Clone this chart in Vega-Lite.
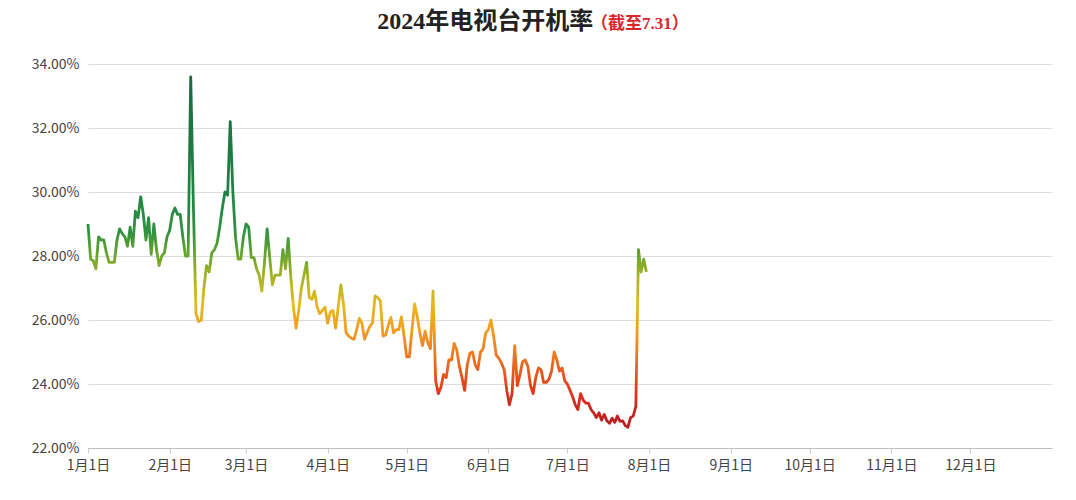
{
  "$schema": "https://vega.github.io/schema/vega-lite/v6.json",
  "width": 964,
  "height": 384,
  "autosize": {"type": "none"},
  "padding": {"left": 88, "top": 64, "right": 24, "bottom": 52},
  "background": "white",
  "config": {"view": {"stroke": null}, "font": "Noto Sans CJK SC"},
  "title": {
    "text": "2024年电视台开机率",
    "anchor": "start",
    "dx": 346,
    "offset": -19,
    "font": "Liberation Serif, Noto Sans CJK SC",
    "fontSize": 24,
    "fontWeight": "bold",
    "color": "#222222"
  },
  "layer": [
    {
      "data": {
        "values": [
          {"date": "2024-01-01", "rate": 29.0},
          {"date": "2024-01-02", "rate": 27.9},
          {"date": "2024-01-03", "rate": 27.85},
          {"date": "2024-01-04", "rate": 27.6},
          {"date": "2024-01-05", "rate": 28.6},
          {"date": "2024-01-06", "rate": 28.5},
          {"date": "2024-01-07", "rate": 28.5},
          {"date": "2024-01-08", "rate": 28.1},
          {"date": "2024-01-09", "rate": 27.8},
          {"date": "2024-01-10", "rate": 27.8},
          {"date": "2024-01-11", "rate": 27.8},
          {"date": "2024-01-12", "rate": 28.5},
          {"date": "2024-01-13", "rate": 28.85},
          {"date": "2024-01-14", "rate": 28.7},
          {"date": "2024-01-15", "rate": 28.6},
          {"date": "2024-01-16", "rate": 28.3},
          {"date": "2024-01-17", "rate": 28.9},
          {"date": "2024-01-18", "rate": 28.3},
          {"date": "2024-01-19", "rate": 29.4},
          {"date": "2024-01-20", "rate": 29.2},
          {"date": "2024-01-21", "rate": 29.85},
          {"date": "2024-01-22", "rate": 29.3},
          {"date": "2024-01-23", "rate": 28.5},
          {"date": "2024-01-24", "rate": 29.2},
          {"date": "2024-01-25", "rate": 28.05},
          {"date": "2024-01-26", "rate": 29.0},
          {"date": "2024-01-27", "rate": 28.2},
          {"date": "2024-01-28", "rate": 27.7},
          {"date": "2024-01-29", "rate": 28.0},
          {"date": "2024-01-30", "rate": 28.1},
          {"date": "2024-01-31", "rate": 28.6},
          {"date": "2024-02-01", "rate": 28.8},
          {"date": "2024-02-02", "rate": 29.3},
          {"date": "2024-02-03", "rate": 29.5},
          {"date": "2024-02-04", "rate": 29.3},
          {"date": "2024-02-05", "rate": 29.3},
          {"date": "2024-02-06", "rate": 28.6},
          {"date": "2024-02-07", "rate": 28.0},
          {"date": "2024-02-08", "rate": 28.0},
          {"date": "2024-02-09", "rate": 33.6},
          {"date": "2024-02-10", "rate": 29.6},
          {"date": "2024-02-11", "rate": 26.2},
          {"date": "2024-02-12", "rate": 25.95},
          {"date": "2024-02-13", "rate": 26.0},
          {"date": "2024-02-14", "rate": 27.0},
          {"date": "2024-02-15", "rate": 27.7},
          {"date": "2024-02-16", "rate": 27.5},
          {"date": "2024-02-17", "rate": 28.1},
          {"date": "2024-02-18", "rate": 28.2},
          {"date": "2024-02-19", "rate": 28.4},
          {"date": "2024-02-20", "rate": 28.9},
          {"date": "2024-02-21", "rate": 29.5},
          {"date": "2024-02-22", "rate": 30.0},
          {"date": "2024-02-23", "rate": 29.9},
          {"date": "2024-02-24", "rate": 32.2},
          {"date": "2024-02-25", "rate": 30.0},
          {"date": "2024-02-26", "rate": 28.6},
          {"date": "2024-02-27", "rate": 27.9},
          {"date": "2024-02-28", "rate": 27.9},
          {"date": "2024-02-29", "rate": 28.6},
          {"date": "2024-03-01", "rate": 29.0},
          {"date": "2024-03-02", "rate": 28.9},
          {"date": "2024-03-03", "rate": 27.95},
          {"date": "2024-03-04", "rate": 27.95},
          {"date": "2024-03-05", "rate": 27.6},
          {"date": "2024-03-06", "rate": 27.4},
          {"date": "2024-03-07", "rate": 26.9},
          {"date": "2024-03-08", "rate": 27.8},
          {"date": "2024-03-09", "rate": 28.85},
          {"date": "2024-03-10", "rate": 27.95},
          {"date": "2024-03-11", "rate": 27.1},
          {"date": "2024-03-12", "rate": 27.4},
          {"date": "2024-03-13", "rate": 27.4},
          {"date": "2024-03-14", "rate": 27.4},
          {"date": "2024-03-15", "rate": 28.2},
          {"date": "2024-03-16", "rate": 27.6},
          {"date": "2024-03-17", "rate": 28.55},
          {"date": "2024-03-18", "rate": 27.35},
          {"date": "2024-03-19", "rate": 26.4},
          {"date": "2024-03-20", "rate": 25.75},
          {"date": "2024-03-21", "rate": 26.3},
          {"date": "2024-03-22", "rate": 27.0},
          {"date": "2024-03-23", "rate": 27.4},
          {"date": "2024-03-24", "rate": 27.8},
          {"date": "2024-03-25", "rate": 26.7},
          {"date": "2024-03-26", "rate": 26.65},
          {"date": "2024-03-27", "rate": 26.9},
          {"date": "2024-03-28", "rate": 26.4},
          {"date": "2024-03-29", "rate": 26.2},
          {"date": "2024-03-30", "rate": 26.3},
          {"date": "2024-03-31", "rate": 26.4},
          {"date": "2024-04-01", "rate": 25.9},
          {"date": "2024-04-02", "rate": 26.25},
          {"date": "2024-04-03", "rate": 26.3},
          {"date": "2024-04-04", "rate": 25.75},
          {"date": "2024-04-05", "rate": 26.4},
          {"date": "2024-04-06", "rate": 27.1},
          {"date": "2024-04-07", "rate": 26.5},
          {"date": "2024-04-08", "rate": 25.6},
          {"date": "2024-04-09", "rate": 25.5},
          {"date": "2024-04-10", "rate": 25.43},
          {"date": "2024-04-11", "rate": 25.4},
          {"date": "2024-04-12", "rate": 25.7},
          {"date": "2024-04-13", "rate": 26.05},
          {"date": "2024-04-14", "rate": 25.9},
          {"date": "2024-04-15", "rate": 25.4},
          {"date": "2024-04-16", "rate": 25.6},
          {"date": "2024-04-17", "rate": 25.8},
          {"date": "2024-04-18", "rate": 25.9},
          {"date": "2024-04-19", "rate": 26.75},
          {"date": "2024-04-20", "rate": 26.7},
          {"date": "2024-04-21", "rate": 26.6},
          {"date": "2024-04-22", "rate": 25.5},
          {"date": "2024-04-23", "rate": 25.53},
          {"date": "2024-04-24", "rate": 25.84},
          {"date": "2024-04-25", "rate": 26.08},
          {"date": "2024-04-26", "rate": 25.6},
          {"date": "2024-04-27", "rate": 25.7},
          {"date": "2024-04-28", "rate": 25.7},
          {"date": "2024-04-29", "rate": 26.1},
          {"date": "2024-04-30", "rate": 25.5},
          {"date": "2024-05-01", "rate": 24.85},
          {"date": "2024-05-02", "rate": 24.85},
          {"date": "2024-05-03", "rate": 25.7},
          {"date": "2024-05-04", "rate": 26.5},
          {"date": "2024-05-05", "rate": 26.1},
          {"date": "2024-05-06", "rate": 25.6},
          {"date": "2024-05-07", "rate": 25.2},
          {"date": "2024-05-08", "rate": 25.65},
          {"date": "2024-05-09", "rate": 25.3},
          {"date": "2024-05-10", "rate": 25.1},
          {"date": "2024-05-11", "rate": 26.9},
          {"date": "2024-05-12", "rate": 24.1},
          {"date": "2024-05-13", "rate": 23.7},
          {"date": "2024-05-14", "rate": 23.9},
          {"date": "2024-05-15", "rate": 24.3},
          {"date": "2024-05-16", "rate": 24.2},
          {"date": "2024-05-17", "rate": 24.75},
          {"date": "2024-05-18", "rate": 24.75},
          {"date": "2024-05-19", "rate": 25.27},
          {"date": "2024-05-20", "rate": 25.06},
          {"date": "2024-05-21", "rate": 24.55},
          {"date": "2024-05-22", "rate": 24.2},
          {"date": "2024-05-23", "rate": 23.8},
          {"date": "2024-05-24", "rate": 24.6},
          {"date": "2024-05-25", "rate": 24.96},
          {"date": "2024-05-26", "rate": 25.0},
          {"date": "2024-05-27", "rate": 24.6},
          {"date": "2024-05-28", "rate": 24.45},
          {"date": "2024-05-29", "rate": 25.0},
          {"date": "2024-05-30", "rate": 25.1},
          {"date": "2024-05-31", "rate": 25.6},
          {"date": "2024-06-01", "rate": 25.7},
          {"date": "2024-06-02", "rate": 26.0},
          {"date": "2024-06-03", "rate": 25.5},
          {"date": "2024-06-04", "rate": 24.9},
          {"date": "2024-06-05", "rate": 24.8},
          {"date": "2024-06-06", "rate": 24.65},
          {"date": "2024-06-07", "rate": 24.45},
          {"date": "2024-06-08", "rate": 23.8},
          {"date": "2024-06-09", "rate": 23.35},
          {"date": "2024-06-10", "rate": 23.7},
          {"date": "2024-06-11", "rate": 25.2},
          {"date": "2024-06-12", "rate": 23.95},
          {"date": "2024-06-13", "rate": 24.3},
          {"date": "2024-06-14", "rate": 24.7},
          {"date": "2024-06-15", "rate": 24.75},
          {"date": "2024-06-16", "rate": 24.55},
          {"date": "2024-06-17", "rate": 23.95},
          {"date": "2024-06-18", "rate": 23.7},
          {"date": "2024-06-19", "rate": 24.2},
          {"date": "2024-06-20", "rate": 24.5},
          {"date": "2024-06-21", "rate": 24.45},
          {"date": "2024-06-22", "rate": 24.05},
          {"date": "2024-06-23", "rate": 24.05},
          {"date": "2024-06-24", "rate": 24.15},
          {"date": "2024-06-25", "rate": 24.4},
          {"date": "2024-06-26", "rate": 25.0},
          {"date": "2024-06-27", "rate": 24.75},
          {"date": "2024-06-28", "rate": 24.4},
          {"date": "2024-06-29", "rate": 24.5},
          {"date": "2024-06-30", "rate": 24.1},
          {"date": "2024-07-01", "rate": 24.0},
          {"date": "2024-07-02", "rate": 23.8},
          {"date": "2024-07-03", "rate": 23.6},
          {"date": "2024-07-04", "rate": 23.35},
          {"date": "2024-07-05", "rate": 23.2},
          {"date": "2024-07-06", "rate": 23.7},
          {"date": "2024-07-07", "rate": 23.5},
          {"date": "2024-07-08", "rate": 23.4},
          {"date": "2024-07-09", "rate": 23.4},
          {"date": "2024-07-10", "rate": 23.2},
          {"date": "2024-07-11", "rate": 23.1},
          {"date": "2024-07-12", "rate": 22.95},
          {"date": "2024-07-13", "rate": 23.1},
          {"date": "2024-07-14", "rate": 22.87},
          {"date": "2024-07-15", "rate": 23.05},
          {"date": "2024-07-16", "rate": 22.85},
          {"date": "2024-07-17", "rate": 22.77},
          {"date": "2024-07-18", "rate": 22.93},
          {"date": "2024-07-19", "rate": 22.8},
          {"date": "2024-07-20", "rate": 23.0},
          {"date": "2024-07-21", "rate": 22.83},
          {"date": "2024-07-22", "rate": 22.85},
          {"date": "2024-07-23", "rate": 22.7},
          {"date": "2024-07-24", "rate": 22.65},
          {"date": "2024-07-25", "rate": 22.95},
          {"date": "2024-07-26", "rate": 23.0},
          {"date": "2024-07-27", "rate": 23.3},
          {"date": "2024-07-28", "rate": 28.2},
          {"date": "2024-07-29", "rate": 27.5},
          {"date": "2024-07-30", "rate": 27.9},
          {"date": "2024-07-31", "rate": 27.5}
        ]
      },
      "mark": {
        "type": "line",
        "strokeWidth": 2.8,
        "strokeJoin": "round",
        "color": {
          "gradient": "linear",
          "x1": 0, "y1": 0, "x2": 0, "y2": 1,
          "stops": [
            {"offset": 0, "color": "#1a6b3e"},
            {"offset": 0.33, "color": "#1f8443"},
            {"offset": 0.44, "color": "#2f9140"},
            {"offset": 0.51, "color": "#6aa52e"},
            {"offset": 0.575, "color": "#aab526"},
            {"offset": 0.648, "color": "#e6b820"},
            {"offset": 0.72, "color": "#f29e1e"},
            {"offset": 0.785, "color": "#ef7d1f"},
            {"offset": 0.85, "color": "#e8551d"},
            {"offset": 0.913, "color": "#da2f1c"},
            {"offset": 1, "color": "#b51d1f"}
          ]
        }
      },
      "encoding": {
        "x": {
          "field": "date",
          "type": "temporal",
          "scale": {
            "type": "utc",
            "domain": [
              {"year": 2024, "month": 1, "date": 1, "utc": true},
              {"year": 2025, "month": 1, "date": 1, "utc": true}
            ]
          },
          "axis": {
            "title": null,
            "values": [
              {"year": 2024, "month": 1, "date": 1, "utc": true},
              {"year": 2024, "month": 2, "date": 1, "utc": true},
              {"year": 2024, "month": 3, "date": 1, "utc": true},
              {"year": 2024, "month": 4, "date": 1, "utc": true},
              {"year": 2024, "month": 5, "date": 1, "utc": true},
              {"year": 2024, "month": 6, "date": 1, "utc": true},
              {"year": 2024, "month": 7, "date": 1, "utc": true},
              {"year": 2024, "month": 8, "date": 1, "utc": true},
              {"year": 2024, "month": 9, "date": 1, "utc": true},
              {"year": 2024, "month": 10, "date": 1, "utc": true},
              {"year": 2024, "month": 11, "date": 1, "utc": true},
              {"year": 2024, "month": 12, "date": 1, "utc": true}
            ],
            "format": "%-m月%-d日",
            "grid": false,
            "domainColor": "#bfbfbf",
            "tickColor": "#cccccc",
            "tickSize": 5,
            "labelPadding": 5,
            "labelFont": "Noto Sans CJK SC",
            "labelFontSize": 14,
            "labelColor": "#444444",
            "labelFlush": false
          }
        },
        "y": {
          "field": "rate",
          "type": "quantitative",
          "scale": {"domain": [22, 34], "nice": false, "zero": false},
          "axis": {
            "title": null,
            "values": [22, 24, 26, 28, 30, 32, 34],
            "labelExpr": "format(datum.value, '.2f') + '%'",
            "domain": false,
            "ticks": false,
            "gridColor": "#dcdcdc",
            "labelPadding": 9,
            "labelFont": "Noto Sans CJK SC",
            "labelFontSize": 14,
            "labelColor": "#444444"
          }
        }
      }
    },
    {
      "data": {"values": [{"note": "（截至7.31）"}]},
      "mark": {
        "type": "text",
        "align": "left",
        "baseline": "alphabetic",
        "fontSize": 17,
        "fontWeight": "bold",
        "color": "#d9262b",
        "font": "Liberation Serif, Noto Sans CJK SC"
      },
      "encoding": {
        "x": {"datum": {"year": 2024, "month": 7, "date": 10, "utc": true}},
        "y": {"datum": 35.1},
        "text": {"field": "note"}
      }
    }
  ]
}
